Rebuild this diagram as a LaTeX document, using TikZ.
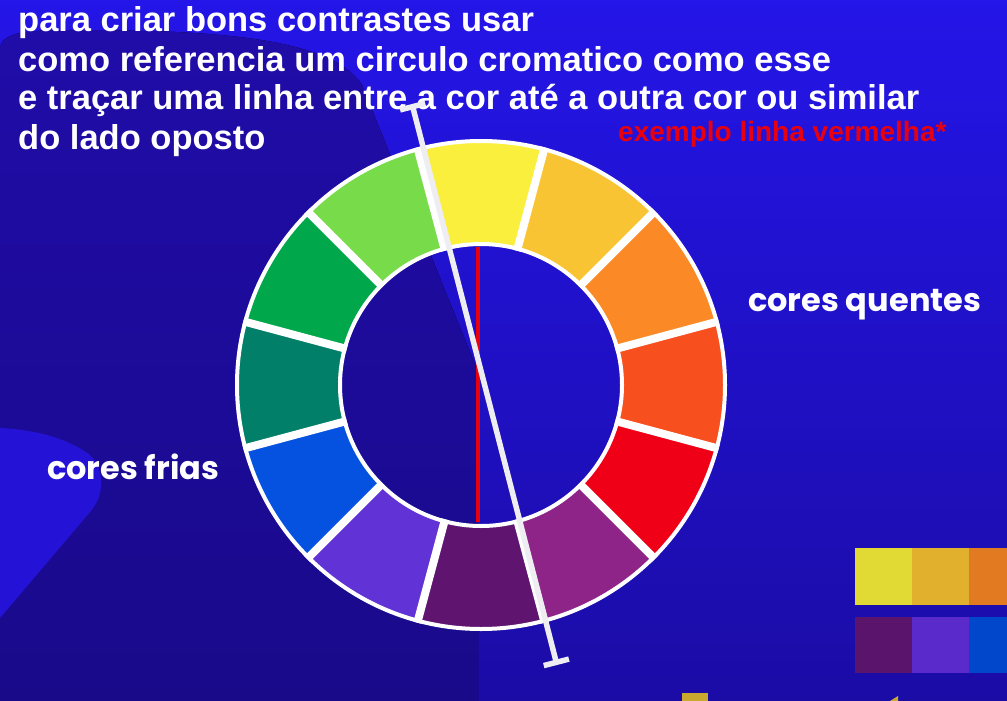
\documentclass[tikz,border=0pt]{standalone}
\usepackage{fontspec}
\setmainfont{Liberation Sans}
\newfontfamily\roundfont{Poppins}
\usetikzlibrary{arrows.meta}

\definecolor{bgtop}{HTML}{2415E8}
\definecolor{bgbot}{HTML}{1B0CA6}
\definecolor{blobtop}{HTML}{200CA8}
\definecolor{blobbot}{HTML}{190A8A}
\definecolor{blobhi}{HTML}{2413D6}
\definecolor{wYellow}{HTML}{FBEF3E}
\definecolor{wAmber}{HTML}{F9C434}
\definecolor{wOrange}{HTML}{FB8A26}
\definecolor{wVermil}{HTML}{F84F1E}
\definecolor{wRed}{HTML}{F00016}
\definecolor{wMagenta}{HTML}{8E2388}
\definecolor{wPurple}{HTML}{5F1570}
\definecolor{wViolet}{HTML}{6132D6}
\definecolor{wBlue}{HTML}{0652E0}
\definecolor{wTeal}{HTML}{017F68}
\definecolor{wGreen}{HTML}{00A84B}
\definecolor{wLime}{HTML}{78DC4A}
\definecolor{sqA}{HTML}{E2DA34}
\definecolor{sqB}{HTML}{E1B02C}
\definecolor{sqC}{HTML}{E27A22}
\definecolor{sqD}{HTML}{5B146C}
\definecolor{sqE}{HTML}{5A2ACB}
\definecolor{sqF}{HTML}{0147CC}
\definecolor{redmark}{HTML}{E8000F}
\definecolor{guidegray}{HTML}{EDEDF2}
\definecolor{cutgold}{HTML}{C9A92E}

\tikzset{
  rim/.style={draw=white, line width=4pt},
  gap/.style={draw=white, line width=8pt},
  guide/.style={draw=guidegray, line width=5.5pt,
    arrows={Bar[width=26pt]-Bar[width=26pt]}},
  redline/.style={draw=redmark, line width=3.5pt},
  intro/.style={anchor=base west, inner sep=0pt, text=white,
    font=\bfseries\fontsize{34.5}{39}\selectfont},
  sidetext/.style={anchor=base west, inner sep=0pt, text=white,
    font=\roundfont\bfseries\fontsize{32}{32}\selectfont}
}

\begin{document}
\begin{tikzpicture}[x=1pt, y=-1pt]
    \useasboundingbox (0,0) rectangle (1007,701);

    % Fundo
    \fill[top color=bgtop, bottom color=bgbot] (0,0) rectangle (1007,701);
    \fill[top color=blobtop, bottom color=blobbot]
        (0,50) .. controls (0,34) and (20,30) .. (70,30)
        .. controls (200,30) and (330,35) .. (362,85)
        -- (478,372) -- (478,701) -- (0,701) -- cycle;
    \fill[blobhi] (0,428) .. controls (40,430) and (70,440) .. (90,455)
        .. controls (105,470) and (105,495) .. (90,512) -- (0,618) -- cycle;

    % Circulo cromatico
    \begin{scope}[shift={(481,385)}, y=1pt]
        \coordinate (hub) at (0,0);
        \foreach \a/\c in {90/wYellow, 60/wAmber, 30/wOrange, 0/wVermil,
                           -30/wRed, -60/wMagenta, -90/wPurple, -120/wViolet,
                           -150/wBlue, 180/wTeal, 150/wGreen, 120/wLime} {
            \fill[\c] (\a-15:141) arc[start angle=\a-15, end angle=\a+15, radius=141]
                -- (\a+15:244) arc[start angle=\a+15, end angle=\a-15, radius=244] -- cycle;
        }
        \foreach \a in {15,45,...,345} {
            \draw[gap] (\a:139) -- (\a:246);
        }
        \draw[rim] (hub) circle[radius=244];
        \draw[rim] (hub) circle[radius=141];
    \end{scope}

    % Paletas
    \foreach \c [count=\i from 0] in {sqA,sqB,sqC} {
        \fill[\c] (855+57*\i,548) rectangle ++(57,57);
    }
    \foreach \c [count=\i from 0] in {sqD,sqE,sqF} {
        \fill[\c] (855+57*\i,617) rectangle ++(57,56);
    }
    \fill[cutgold] (682,693) rectangle (708,701);
    \fill[cutgold] (890,701) -- (898,696) -- (898,701) -- cycle;

    % Textos
    \node[sidetext] (quentes) at (748,311) {cores quentes};
    \node[sidetext] (frias) at (47,479) {cores frias};
    \node[intro] (line1) at (18,32) {para criar bons contrastes usar};
    \node[intro] (line2) at (18,71) {como referencia um circulo cromatico como esse};
    \node[intro] (line3) at (18,110) {e traçar uma linha entre a cor até a outra cor ou similar};
    \node[intro] (line4) at (18,149) {do lado oposto};
    \node[anchor=base west, inner sep=0pt, text=redmark,
          font=\bfseries\fontsize{28}{28}\selectfont] (exemplo) at (618,141)
          {exemplo linha vermelha*};

    % Linhas
    \coordinate (redTop) at (478,247);
    \coordinate (redBot) at (478,522);
    \draw[redline] (redTop) -- (redBot);
    \coordinate (guideTop) at (412,104);
    \coordinate (guideBot) at (557,665);
    \draw[guide] (guideTop) -- (guideBot);
\end{tikzpicture}
\end{document}
